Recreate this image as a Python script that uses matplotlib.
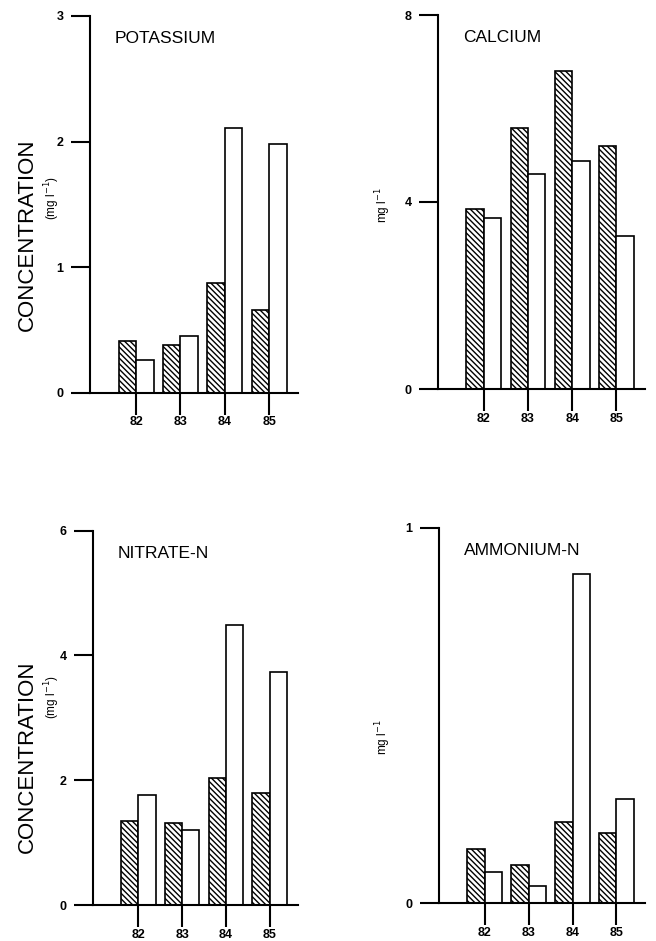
import numpy as np
import matplotlib
matplotlib.use('Agg')
import matplotlib.pyplot as plt

# Data (hatched = first series, open = second series)
years = ['82', '83', '84', '85']

potassium_hatched = [0.41, 0.38, 0.87, 0.66]
potassium_open = [0.26, 0.45, 2.11, 1.98]

calcium_hatched = [3.86, 5.59, 6.80, 5.20]
calcium_open = [3.65, 4.59, 4.88, 3.27]

nitrate_hatched = [1.35, 1.31, 2.04, 1.79]
nitrate_open = [1.77, 1.21, 4.49, 3.74]

ammonium_hatched = [0.144, 0.102, 0.215, 0.186]
ammonium_open = [0.083, 0.044, 0.877, 0.277]

plt.rcParams['font.family'] = ['Liberation Sans', 'DejaVu Sans']
plt.rcParams['hatch.linewidth'] = 1.0

W, H = 656, 941
fig = plt.figure(figsize=(W / 100, H / 100), dpi=100)


def px_axes(left, top, right, bottom):
    # convert pixel box (from top-left) to figure fraction
    return [left / W, 1 - bottom / H, (right - left) / W, (bottom - top) / H]


def panel(box, hatched, opened, title, yticks):
    ax = fig.add_axes(px_axes(*box))
    x = np.arange(len(years))
    w = 0.395
    ax.bar(x - w, hatched, width=w, align='edge', facecolor='white',
           edgecolor='black', hatch='\\\\\\\\\\\\', linewidth=1.2)
    ax.bar(x, opened, width=w, align='edge', facecolor='white',
           edgecolor='black', linewidth=1.2)
    ax.set_xlim(-1.04, 3.65)
    ax.set_ylim(0, yticks[-1])
    ax.set_xticks(x)
    ax.set_xticklabels(years)
    ax.set_yticks(yticks)
    ax.set_yticklabels([str(t) for t in yticks])
    for s in ['top', 'right']:
        ax.spines[s].set_visible(False)
    for s in ['left', 'bottom']:
        ax.spines[s].set_linewidth(1.5)
    ax.tick_params(axis='y', direction='out', length=14, width=1.5, pad=5,
                   labelsize=9)
    ax.tick_params(axis='x', direction='out', length=16, width=1.5, pad=1,
                   labelsize=9)
    for lab in ax.get_xticklabels() + ax.get_yticklabels():
        lab.set_fontweight('bold')
    ax.text(0.12, 0.94, title, transform=ax.transAxes, fontsize=12.5,
            ha='left', va='center')
    ax.patch.set_alpha(0)
    return ax


panel((90, 16, 298, 392.7), potassium_hatched, potassium_open, 'POTASSIUM', [0, 1, 2, 3])
panel((438, 15, 645, 389), calcium_hatched, calcium_open, 'CALCIUM', [0, 4, 8])
panel((93, 530.7, 298, 905), nitrate_hatched, nitrate_open, 'NITRATE-N', [0, 2, 4, 6])
panel((439, 527.7, 645, 903), ammonium_hatched, ammonium_open, 'AMMONIUM-N', [0, 1])

# axis titles
fig.text(27.5 / W, 1 - 235 / H, 'CONCENTRATION', rotation=90, fontsize=16,
         ha='center', va='center')
fig.text(52 / W, 1 - 198 / H, '(mg l$^{-1}$)', rotation=90, fontsize=8.5,
         ha='center', va='center')
fig.text(27.5 / W, 1 - 757 / H, 'CONCENTRATION', rotation=90, fontsize=16,
         ha='center', va='center')
fig.text(52 / W, 1 - 697 / H, '(mg l$^{-1}$)', rotation=90, fontsize=8.5,
         ha='center', va='center')
fig.text(383 / W, 1 - 205 / H, 'mg l$^{-1}$', rotation=90, fontsize=8.5,
         ha='center', va='center')
fig.text(383 / W, 1 - 737 / H, 'mg l$^{-1}$', rotation=90, fontsize=8.5,
         ha='center', va='center')

fig.savefig('out.png', dpi=100, facecolor='white')
